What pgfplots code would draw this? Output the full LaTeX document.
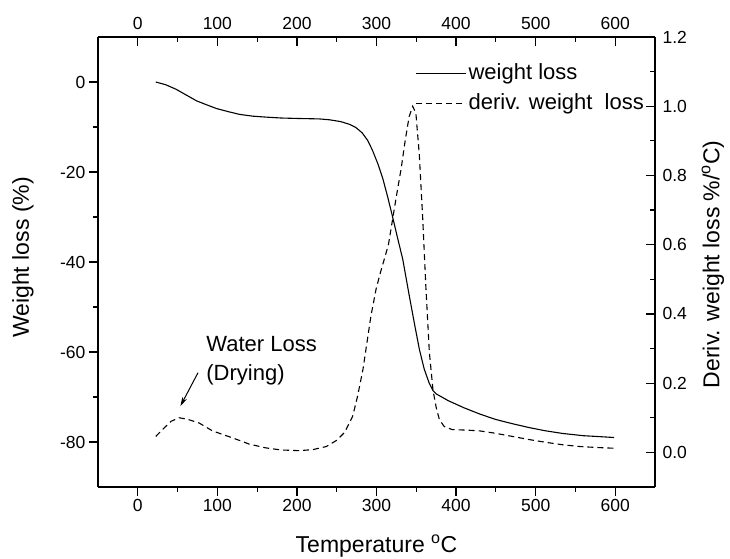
\documentclass[border=0pt]{standalone}
\usepackage{fontspec}
\setmainfont{Liberation Sans}
\usepackage{pgfplots}
\pgfplotsset{compat=1.18}
\usetikzlibrary{arrows.meta}

\pgfplotstableread{
x y
22.6 0
35 -0.6
48 -1.6
60 -2.8
74 -4.2
87 -5.1
99 -5.9
114 -6.6
128 -7.2
145 -7.6
161 -7.8
180 -8.0
200 -8.1
228 -8.2
241 -8.4
255 -8.8
266 -9.4
274 -10.1
282 -11.3
289 -13.0
295 -15.2
302 -18.3
308 -21.5
314 -25.5
320 -29.8
326 -34.3
333 -39.4
341 -47.3
348 -54.0
354 -59.5
360 -63.8
366 -66.8
371 -68.6
375 -69.3
390 -70.8
410 -72.4
430 -73.8
450 -75.0
470 -75.9
492 -76.8
512 -77.5
534 -78.1
560 -78.6
580 -78.8
598.5 -79.0
}\weightloss

\pgfplotstableread{
x y
22.6 0.046
32 0.068
42 0.090
52 0.100
62 0.096
77 0.085
94 0.062
119 0.042
140 0.024
161 0.013
180 0.007
203 0.005
220 0.008
237 0.017
250 0.035
260 0.058
270 0.104
276 0.160
283 0.240
288 0.317
293 0.394
299.5 0.472
305 0.520
310 0.560
315 0.600
320 0.670
325 0.740
331 0.820
336 0.900
341 0.970
345.5 1.000
349.5 0.980
353.8 0.860
358 0.680
362 0.480
366.4 0.290
371 0.180
375 0.130
379 0.095
385 0.075
395 0.066
416 0.064
430 0.062
450 0.055
471 0.046
492 0.037
513 0.029
534 0.022
555 0.017
578 0.014
598.5 0.012
}\derivloss

\begin{document}
\begin{tikzpicture}
\useasboundingbox (-98pt,-71pt) rectangle (632pt,487pt);
\pgfplotsset{
  common/.style={
    at={(0,0)}, anchor=south west,
    scale only axis, width=557pt, height=450pt,
    xmin=-50, xmax=650,
    xtick={0,100,200,300,400,500,600},
    minor x tick num=1,
    major tick length=9pt, minor tick length=5pt,
    every tick/.style={black, line width=1.2pt},
    axis line style={line width=1.6pt, -},
    tick label style={font=\fontsize{17.5}{19}\selectfont},
    label style={font=\fontsize{23}{26}\selectfont},
    /pgf/number format/assume math mode=true,
  },
}
\begin{axis}[common,
  ymin=-90, ymax=10,
  axis x line*=bottom, axis y line*=left,
  ytick={-80,-60,-40,-20,0},
  minor y tick num=1,
  tick align=outside,
  xlabel={Temperature \textsuperscript{o}C},
  ylabel={Weight loss (\%)},
  xlabel style={at={(axis description cs:0.5,-0.1445)}, anchor=base},
  ylabel style={at={(axis description cs:-0.135,0.51)}, anchor=center},
]
\addplot[black, line width=1.1pt] table[x=x, y=y] {\weightloss};
\node[anchor=base west, inner sep=0pt, font=\fontsize{22}{24}\selectfont] at (axis cs:86,-59.8) {Water Loss};
\node[anchor=base west, inner sep=0pt, font=\fontsize{22}{24}\selectfont] at (axis cs:86,-66.3) {(Drying)};
\draw[-{Stealth[length=9pt,width=5pt]}, line width=1pt] (axis cs:75.7,-64.6) -- (axis cs:53.6,-72.0);
\end{axis}
\begin{axis}[common,
  ymin=-0.1, ymax=1.2,
  axis x line*=top, axis y line*=right,
  ytick={0,0.2,0.4,0.6,0.8,1.0,1.2},
  minor y tick num=1,
  tick align=inside,
  yticklabel style={xshift=4pt, /pgf/number format/.cd, fixed, fixed zerofill, precision=1},
  xticklabel style={yshift=3.5pt},
  ylabel={Deriv. weight loss \%/\textsuperscript{o}C)},
  ylabel style={at={(axis description cs:1.104,0.495)}, anchor=center, rotate=0},
  legend style={draw=none, fill=none, at={(rel axis cs:0.570,0.946)}, anchor=north west,
    inner sep=0pt, outer sep=0pt, font=\fontsize{22}{24}\selectfont,
    nodes={text height=16pt, text depth=5pt, inner sep=2pt}, row sep=5pt,
    /tikz/every even column/.append style={column sep=3pt}},
  legend cell align=left,
  legend image code/.code={\draw[#1] (0pt,0pt) -- (50pt,0pt);},
]
\addlegendimage{black, line width=1.1pt}
\addlegendentry{weight loss}
\addplot[black, line width=1.1pt, dash pattern=on 6pt off 4pt] table[x=x, y=y] {\derivloss};
\addlegendentry{deriv. weight\ \ loss}
\end{axis}
\end{tikzpicture}
\end{document}
